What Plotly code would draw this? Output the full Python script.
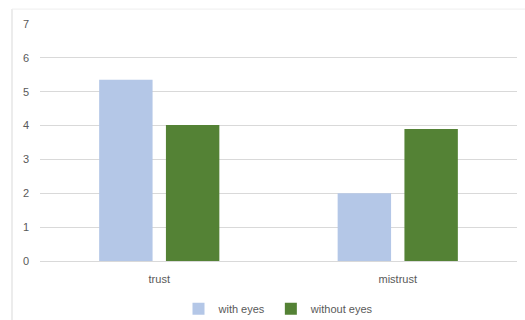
import plotly.graph_objects as go

categories = ["trust", "mistrust"]
with_eyes = [5.35, 2.0]
without_eyes = [4.02, 3.9]
y_ticks = [0, 1, 2, 3, 4, 5, 6, 7]

series = [
    ("with eyes", with_eyes, "#b4c7e7"),
    ("without eyes", without_eyes, "#548235"),
]

fig = go.Figure()
for name, vals, color in series:
    fig.add_trace(go.Bar(
        x=categories, y=vals, name=name,
        marker=dict(color=color, line=dict(width=0)),
    ))

font_color = "#595959"
fig.update_layout(
    width=525, height=320,
    margin=dict(l=40, r=8, t=24, b=59, autoexpand=False),
    paper_bgcolor="white", plot_bgcolor="white",
    font=dict(family="Liberation Sans, Arial, sans-serif", size=11, color=font_color),
    barmode="group", bargap=0.44, bargroupgap=0.2,
    showlegend=True,
    legend=dict(orientation="h", x=0.5, xanchor="center",
                yref="container", y=0.035, yanchor="middle",
                font=dict(size=11, color=font_color), itemwidth=30,
                tracegroupgap=0),
    xaxis=dict(showgrid=False, showline=False, ticks="", ticklabelstandoff=10,
               tickfont=dict(size=11)),
    yaxis=dict(range=[0, 7], tickvals=y_ticks, showgrid=True, gridcolor="#d9d9d9",
               gridwidth=1, zeroline=True, zerolinecolor="#d9d9d9", zerolinewidth=1,
               showline=False, ticks="", ticklabelstandoff=10,
               tickfont=dict(size=11)),
    shapes=[
        dict(type="line", xref="paper", yref="paper", x0=-0.0587, x1=-0.0587,
             y0=-0.3, y1=1.063, line=dict(color="#d9d9d9", width=1)),
        dict(type="line", xref="paper", yref="paper", x0=-0.0587, x1=1.02,
             y0=1.063, y1=1.063, line=dict(color="#eeeeee", width=1)),
    ],
)

fig.write_html("out.html")
